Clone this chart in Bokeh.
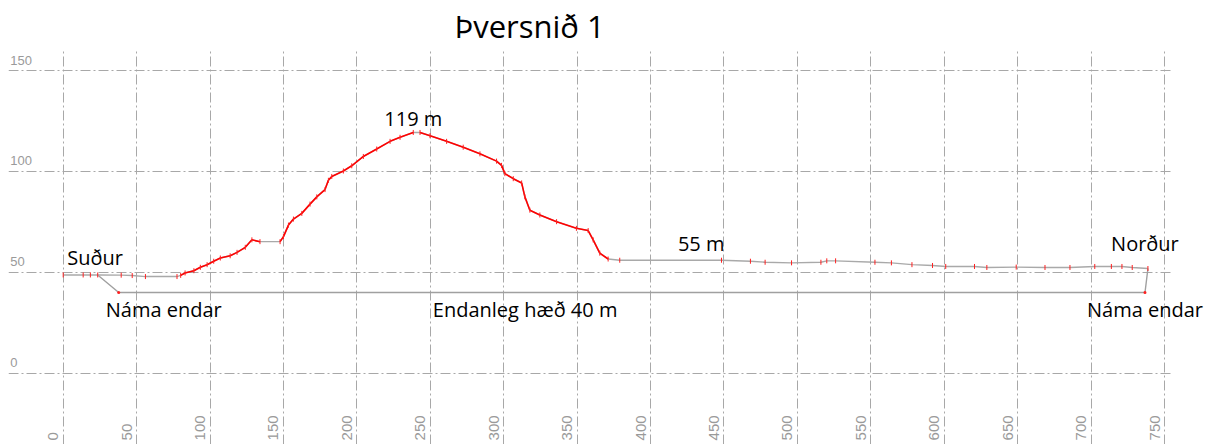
import numpy as np
from bokeh.plotting import figure
from bokeh.models import Grid, FixedTicker, Range1d, Label
from bokeh.embed import file_html
from bokeh.core.properties import value
from bokeh.resources import INLINE

# ---------------- data ----------------
title_text = "Þversnið 1"
x_ticks = [0, 50, 100, 150, 200, 250, 300, 350, 400, 450, 500, 550, 600, 650, 700, 750]
y_ticks = [0, 50, 100, 150]
x_tick_labels = [str(t) for t in x_ticks]
y_tick_labels = [str(t) for t in y_ticks]

# terrain profile (distance m, elevation m)
profile_x = [0, 13.6, 18.5, 23.5, 39.5, 47, 56, 77.5, 80, 83, 89, 93.4, 98, 102.5, 107,
             113.7, 118.4, 124, 128.5, 134, 147.7, 150, 153.4, 156.8, 162.5, 168.1, 172.7,
             178.3, 180.6, 182.9, 190.8, 196.5, 204.4, 213.5, 222.6, 229.4, 238.4, 243,
             249.8, 261.1, 272.4, 283.8, 295.1, 298.5, 300.8, 306.5, 312.2, 314.4, 317.8,
             324.6, 336, 349.5, 357.5, 360.9, 365.4, 371.1, 379, 448.3, 468, 478, 496, 516,
             520, 526, 552.8, 564, 578, 592, 601, 620.6, 629, 649, 668.6, 685.6, 702.5,
             713.8, 721, 728, 738.7]
profile_y = [48.7, 48.7, 48.7, 48.7, 48.6, 48.4, 47.9, 47.9, 48.5, 49.7, 50.8, 52.5, 53.8, 55.5, 57.1,
             58.2, 59.9, 62.4, 66.1, 65.2, 65.2, 67.7, 73.4, 76.4, 79.2, 83.8, 87.4,
             91.0, 95.6, 97.5, 100.2, 102.8, 107.4, 111.1, 114.9, 116.9, 119.3, 119.3,
             117.7, 114.9, 112.0, 108.7, 105.1, 103.0, 98.9, 96.4, 94.3, 87.4, 80.8,
             78.4, 75.1, 71.8, 70.7, 66.1, 59.5, 56.6, 56.0, 56.0, 55.5, 55.0, 54.7, 55.0,
             55.7, 55.7, 55.0, 54.7, 53.8, 53.4, 52.9, 52.9, 52.4, 52.6, 52.4, 52.4, 52.9,
             52.9, 52.9, 52.4, 51.9]

# final excavation level (Endanleg hæð 40 m)
floor_x = [23.5, 37.8, 736.7, 738.7]
floor_y = [48.7, 40.0, 40.0, 51.9]

# ---------------- figure ----------------
W, H = 1212, 444
X0, X1 = -37.25, 782.67      # frame spans the full width so right-hand labels are not clipped
GRID_X_END = 754.1           # horizontal grid lines stop here
p = figure(width=W, height=H, output_backend="svg", toolbar_location=None,
           x_axis_type=None, y_axis_type=None,
           x_range=Range1d(X0, X1), y_range=Range1d(-35.3, 160.9),
           min_border_left=8, min_border_right=0, min_border_bottom=0, min_border_top=48)
p.outline_line_color = None
p.background_fill_color = "white"
p.border_fill_color = "white"

p.title.text = title_text
p.title.text_font = "Open Sans"
p.title.text_font_size = "31px"
p.title.text_font_style = "normal"
p.title.text_color = "black"
p.title.align = "left"
p.title.offset = 446
p.title.standoff = 3

grid_style = dict(grid_line_color="#a8a8a8", grid_line_width=1, grid_line_dash="10 3 2 3")
p.add_layout(Grid(dimension=0, ticker=FixedTicker(ticks=x_ticks), **grid_style))
p.add_layout(Grid(dimension=1, ticker=FixedTicker(ticks=y_ticks),
                  cross_bounds=(X0, GRID_X_END), **grid_style))

tick_font = value("Liberation Sans")
# y tick labels (sit just above their grid line at the left edge)
p.text(x=[-36.0] * len(y_ticks), y=y_ticks, text=y_tick_labels,
       text_font=tick_font, text_font_size="13px", text_color="#9a9a9a",
       text_align="left", text_baseline="bottom", y_offset=-6)
# x tick labels (rotated, at the bottom, left of their grid line)
p.text(x=x_ticks, y=[-33.3] * len(x_ticks), text=x_tick_labels, angle=np.pi / 2,
       text_font=tick_font, text_font_size="15px", text_color="#9a9a9a",
       text_align="left", text_baseline="bottom", x_offset=-5)

# floor line
p.line(floor_x, floor_y, line_color="#a0a0a0", line_width=1.4)
# terrain profile
p.line(profile_x, profile_y, line_color="#a9a9a9", line_width=1.4)
px = np.array(profile_x)
py = np.array(profile_y)
x0, x1, y0, y1 = px[:-1], px[1:], py[:-1], py[1:]
dense = (x0 >= 78) & (x1 <= 373) & (np.abs(y1 - y0) > 0.3)
p.segment(x0=x0[dense], y0=y0[dense], x1=x1[dense], y1=y1[dense],
          line_color="#ff0000", line_width=1.6)
p.scatter(profile_x, profile_y, marker="dash", angle=np.pi / 2, size=5,
          line_color="#ff2020", line_width=1)
p.scatter([floor_x[1], floor_x[2]], [floor_y[1], floor_y[2]], marker="circle", size=3,
          fill_color="#ff2020", line_color=None)

# annotations
ipk = int(np.argmax(py))


def add_label(x, y, text, align, dx, dy):
    p.add_layout(Label(x=x, y=y, text=text, text_align=align, text_baseline="alphabetic",
                       x_offset=dx, y_offset=dy, text_font="Open Sans",
                       text_font_size="20px", text_color="black"))


add_label(profile_x[0], profile_y[0], "Suður", "left", 4, 17.4)
add_label(profile_x[-1], profile_y[-1], "Norður", "center", -3, 25)
add_label(profile_x[ipk], profile_y[ipk], "119 m", "center", 0, 14)
add_label(448.3, 56.0, "55 m", "right", 3, 16.7)
add_label(floor_x[1], floor_y[1], "Náma endar", "left", -13, -16.5)
add_label(251.7, floor_y[1], "Endanleg hæð 40 m", "left", 0, -16.5)
add_label(floor_x[2], floor_y[2], "Náma endar", "center", 0, -16.5)

open("out.html", "w").write(file_html(p, INLINE))
